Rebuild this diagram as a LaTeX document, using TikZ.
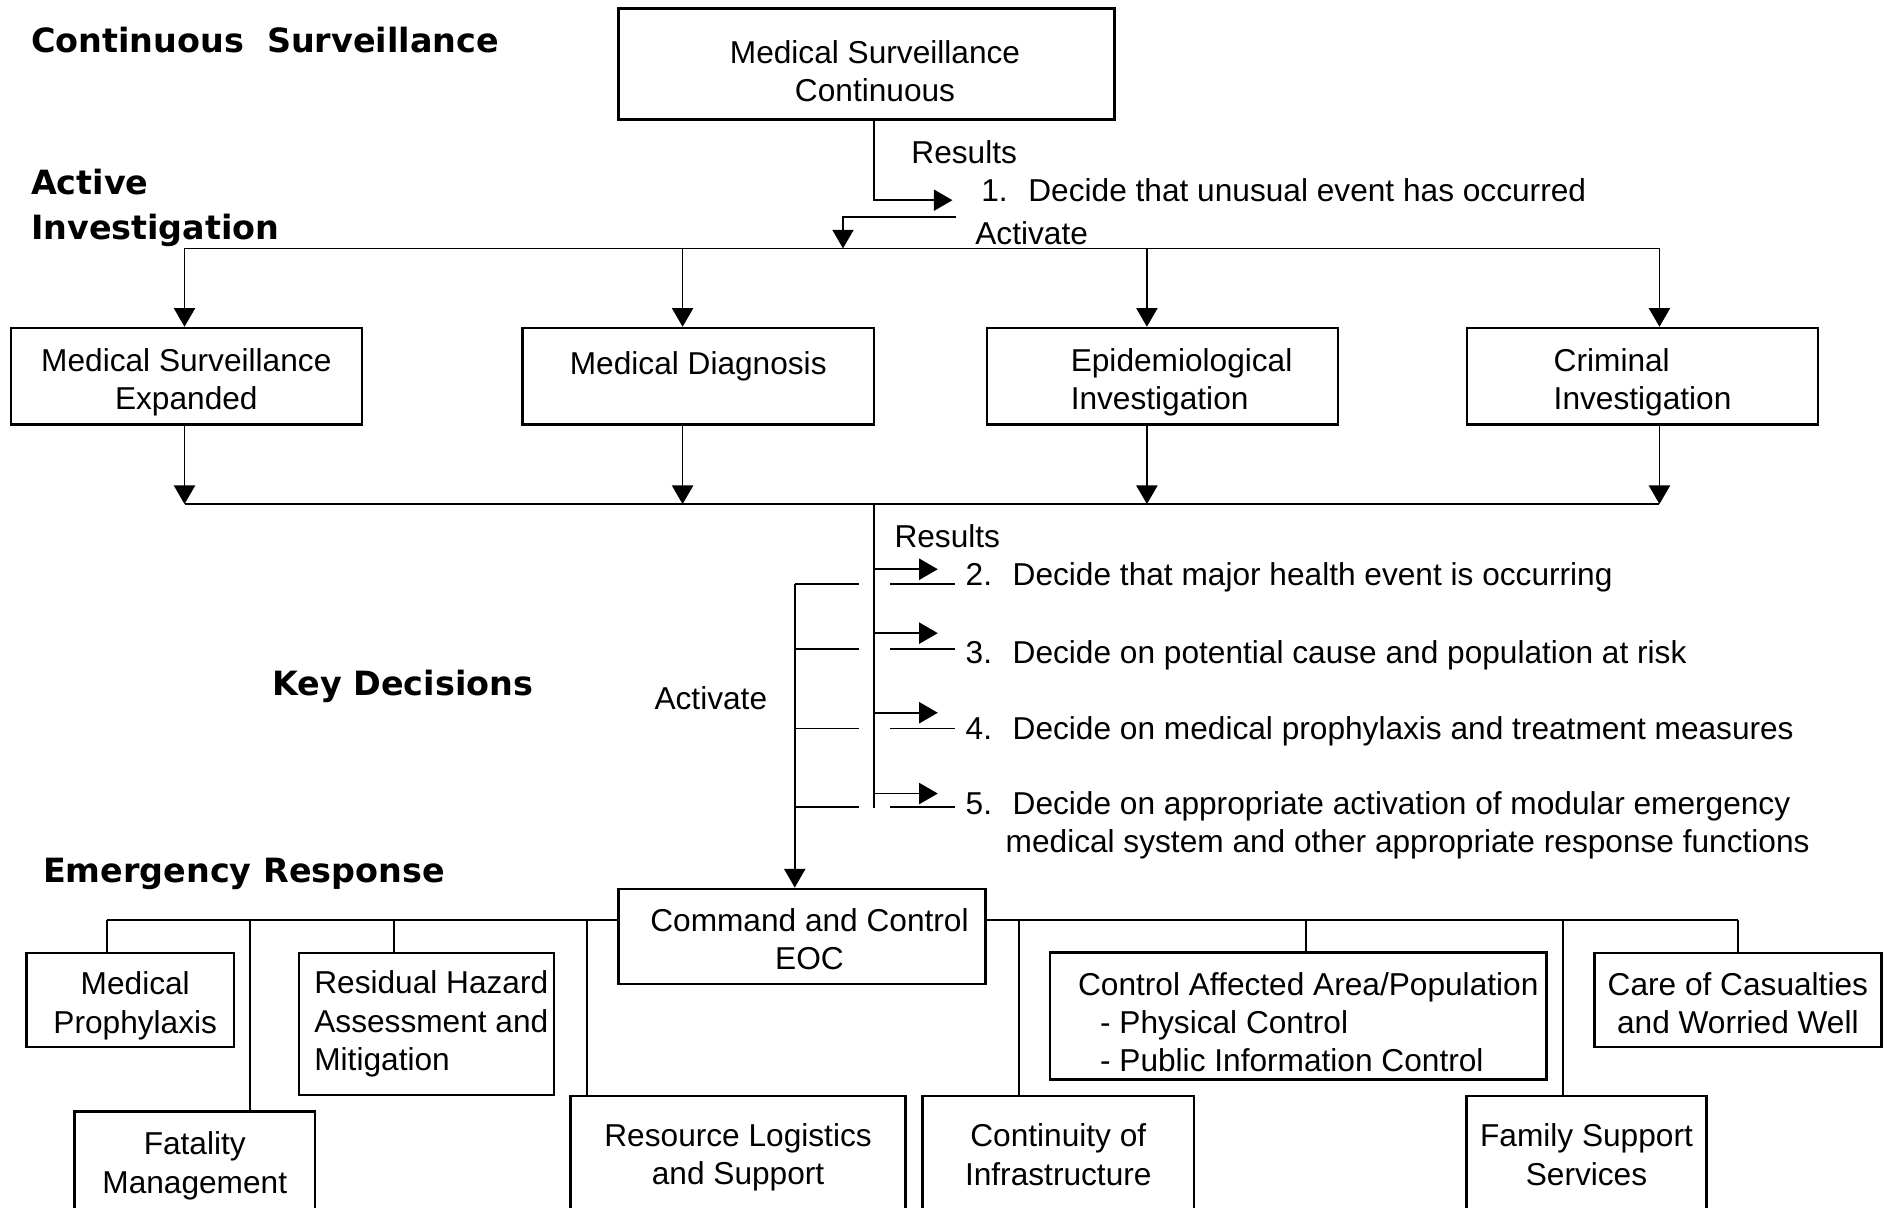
\documentclass[tikz,border=0pt]{standalone}
\usepackage{fontspec}
\setmainfont{Liberation Sans}
\newfontfamily\headfont{DejaVu Sans}
\usetikzlibrary{arrows.meta,positioning,calc}
\newcommand{\boxstrut}{\rule{0pt}{10pt}}
\tikzset{>={Triangle[length=5.3pt,width=6pt]}}
\tikzset{
  box/.style={draw, line width=0.7pt, inner sep=0pt, align=center, font=\fontsize{9}{10.9}\selectfont},
  inv/.style={box, minimum width=3.51cm, minimum height=0.965cm},
  head/.style={anchor=west, inner sep=0pt, align=left, font=\headfont\bfseries\fontsize{9.5}{12.6}\selectfont},
  lbl/.style={anchor=west, inner sep=0pt, align=left, font=\fontsize{9}{10.9}\selectfont}
}

\begin{document}
\begin{tikzpicture}[x=0.01206cm, y=-0.01206cm, line width=0.5pt]
	\useasboundingbox (0,0) rectangle (1568,1001);
	\clip (0,0) rectangle (1568,1001);

	% headings
	\node[head] (hcs) at (25,33) {Continuous\ \ Surveillance};
	\node[head] (hai) at (25,172.5) {Active\\Investigation};
	\node[head] (hkd) at (225,569) {Key Decisions};
	\node[head] (her) at (35,725) {Emergency Response};

	% continuous surveillance
	\node[box, minimum width=4.96cm, minimum height=1.11cm] (msc) at (718.5,53) {\rule{0pt}{10.8pt}\hspace*{0.17cm}Medical Surveillance\\\hspace*{0.17cm}Continuous};
	\node[lbl] (res1) at (755,126) {Results};
	\node[lbl] (d1) at (813,158) {\makebox[0.47cm][l]{1.}Decide that unusual event has occurred};
	\node[lbl] (act1) at (808,193) {Activate};
	\coordinate (r1) at (725,166);
	\coordinate (a1) at (793,180);
	\coordinate (a1b) at (699,206);
	\coordinate (b1w) at (153,206);
	\coordinate (b1e) at (1376,206);
	\draw[->, shorten >=0.28cm] (msc.south -| r1) |- (d1.west |- r1);
	\draw[->] (a1) -| (a1b);
	\draw (b1w) -- (b1e);

	% active investigation
	\node[inv] (msx) at (154.5,312) {\boxstrut Medical Surveillance\\Expanded};
	\node[inv] (mdx) at (579,312) {\boxstrut Medical Diagnosis\\~};
	\node[inv, align=left] (epi) at (964,312) {\boxstrut\hspace*{0.38cm}Epidemiological\\\hspace*{0.38cm}Investigation};
	\node[inv, align=left] (crim) at (1362,312) {\boxstrut Criminal\\Investigation};
	\coordinate (b2w) at (153,418);
	\coordinate (b2e) at (1376,418);
	\foreach \n/\c in {msx/153, mdx/566, epi/951, crim/1376}{
		\draw[->] (\c,0 |- b1w) -- (\n.north -| \c,0);
		\draw[->] (\n.south -| \c,0) -- (\c,0 |- b2w);
	}
	\draw (b2w) -- (b2e);

	% key decisions
	\node[lbl] (res2) at (741,445) {Results};
	\node[lbl] (d2) at (800,479) {\makebox[0.47cm][l]{2.}Decide that major health event is occurring};
	\node[lbl] (d3) at (800,543) {\makebox[0.47cm][l]{3.}Decide on potential cause and population at risk};
	\node[lbl] (d4) at (800,606) {\makebox[0.47cm][l]{4.}Decide on medical prophylaxis and treatment measures};
	\node[lbl] (d5) at (800,684.5) {\makebox[0.47cm][l]{5.}Decide on appropriate activation of modular emergency\\\hspace*{0.4cm}medical system and other appropriate response functions};
	\node[lbl] (act2) at (542,579) {Activate};
	\coordinate (r2t) at (725,418);
	\coordinate (r2b) at (725,670);
	\coordinate (a2t) at (659,484);
	\draw (r2t) -- (r2b);
	\foreach \n/\ya/\yb in {d2/472/484, d3/525/538, d4/591/604, d5/658/669}{
		\draw[->, shorten >=0.27cm] (r2t |- 0,\ya) -- (\n.west |- 0,\ya);
		\draw (\n.west |- 0,\yb) ++(-8,0) -- ++(-54,0);
		\draw (a2t |- 0,\yb) -- ++(53,0);
	}

	% emergency response
	\node[box, minimum width=3.67cm, minimum height=0.953cm] (cc) at (665,776.5) {\rule{0pt}{8pt}\hspace*{0.15cm}Command and Control\\\hspace*{0.15cm}EOC};
	\draw[->] (a2t) -- (cc.north -| a2t);
	\node[box, minimum width=2.07cm, minimum height=0.94cm] (mp) at (108,829) {\boxstrut\hspace*{0.1cm}Medical\\\hspace*{0.1cm}Prophylaxis};
	\node[box, align=left, minimum width=2.55cm, minimum height=1.42cm] (rh) at (353.5,849) {\hspace*{0.1cm}Residual Hazard\\\hspace*{0.1cm}Assessment and\\\hspace*{0.1cm}Mitigation};
	\node[box, minimum width=2.40cm, minimum height=1.03cm] (fat) at (161.5,964.5) {\rule{0pt}{8pt}Fatality\\Management};
	\node[box, minimum width=3.35cm, minimum height=1.17cm] (rl) at (612,957.5) {\rule{0pt}{8pt}Resource Logistics\\and Support};
	\node[box, minimum width=2.71cm, minimum height=1.17cm] (ci) at (877.5,957.5) {Continuity of\\Infrastructure};
	\node[box, align=left, minimum width=4.96cm, minimum height=1.27cm] (caa) at (1076.5,842.5) {\boxstrut\hspace*{0.2cm}Control Affected Area/Population\\\hspace*{0.42cm}- Physical Control\\\hspace*{0.42cm}- Public Information Control};
	\node[box, minimum width=2.40cm, minimum height=1.17cm] (fs) at (1315.5,957.5) {Family Support\\Services};
	\node[box, minimum width=2.87cm, minimum height=0.94cm] (cw) at (1441,829) {\rule{0pt}{8.6pt}Care of Casualties\\and Worried Well};
	\coordinate (lb) at (89,763);
	\coordinate (rb) at (1441,763);
	\draw (cc.west |- lb) -- (lb);
	\draw (cc.east |- rb) -- (rb);
	\foreach \n/\c in {mp/89, fat/207, rh/327, rl/487, ci/845, caa/1083, fs/1296, cw/1441}
		\draw (\c,0 |- lb) -- (\n.north -| \c,0);
\end{tikzpicture}
\end{document}
